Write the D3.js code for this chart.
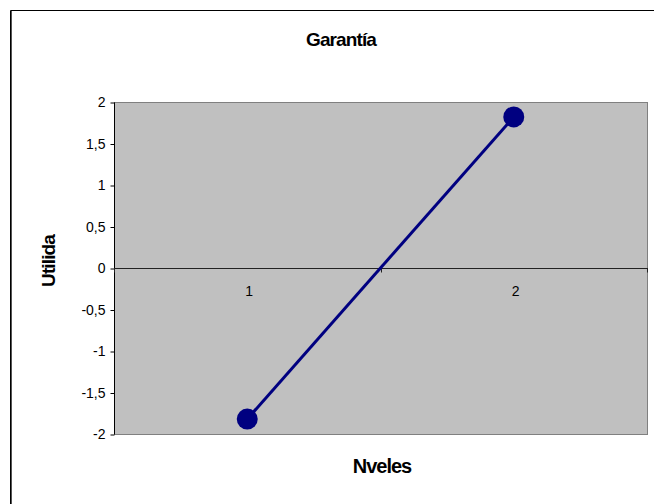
<!DOCTYPE html>
<html>
<head>
<meta charset="utf-8">
<script src="https://cdn.jsdelivr.net/npm/d3@7"></script>
<style>
  html, body { margin: 0; padding: 0; background: #fff; overflow: hidden; }
  svg { display: block; }
  text { font-family: Arial, "Liberation Sans", sans-serif; }
</style>
</head>
<body>
<svg id="chart" width="654" height="504"></svg>
<script>
// Part-worth utilities for the "Garantía" attribute
const categories = ["1", "2"];
const values = [-1.82, 1.82];
const yTicks = [-2, -1.5, -1, -0.5, 0, 0.5, 1, 1.5, 2];
const chartTitle = "Garantía";
const xTitle = "Nveles";
const yTitle = "Utilida";

const svg = d3.select("#chart");
const W = 654, H = 504;

// outer chart frame: only its top and left edges fall inside the canvas
svg.append("path")
  .attr("d", `M10.5,${H}V10.5H${W}`)
  .attr("fill", "none").attr("stroke", "#000").attr("stroke-width", 1);
svg.append("line")
  .attr("x1", 11.5).attr("x2", 11.5).attr("y1", 11).attr("y2", H)
  .attr("stroke", "#555").attr("stroke-width", 1);

const plot = { left: 114, top: 102, right: 647, bottom: 434 };

const x = d3.scaleBand()
  .domain(categories)
  .range([plot.left, plot.right])
  .paddingInner(0).paddingOuter(0);

const y = d3.scaleLinear()
  .domain([-2, 2])
  .range([plot.bottom, plot.top]);

// plot area
svg.append("rect")
  .attr("x", plot.left + 0.5).attr("y", plot.top + 0.5)
  .attr("width", plot.right - plot.left).attr("height", plot.bottom - plot.top)
  .attr("fill", "#c0c0c0").attr("stroke", "#808080").attr("stroke-width", 1);

// value axis
const yAxis = d3.axisLeft(y)
  .tickValues(yTicks)
  .tickSize(4)
  .tickPadding(5)
  .tickFormat(d => d3.format("")(d).replace(".", ",").replace("−", "-"));

const gy = svg.append("g")
  .attr("transform", `translate(${plot.left + 0.5},0.5)`)
  .call(yAxis);
gy.select(".domain").attr("stroke", "#000").attr("d", `M0,${plot.top}V${plot.bottom}`);
gy.selectAll(".tick line").attr("stroke", "#000");
gy.selectAll(".tick text")
  .attr("font-size", 14).attr("fill", "#000")
  .attr("font-family", "Arial, 'Liberation Sans', sans-serif");

// category axis crossing at zero
const y0 = Math.round(y(0));
const gx = svg.append("g").attr("transform", `translate(0,${y0 + 0.5})`);
gx.append("line")
  .attr("x1", plot.left).attr("x2", plot.right + 1)
  .attr("stroke", "#222").attr("stroke-width", 1);
const boundaries = [plot.left].concat(categories.map(c => x(c) + x.bandwidth()));
gx.selectAll("line.tk").data(boundaries).enter().append("line")
  .attr("class", "tk")
  .attr("x1", d => Math.round(d) + 0.5).attr("x2", d => Math.round(d) + 0.5)
  .attr("y1", 0).attr("y2", 4)
  .attr("stroke", "#222");
gx.selectAll("text").data(categories).enter().append("text")
  .attr("x", d => x(d) + x.bandwidth() / 2 + 2)
  .attr("y", 27)
  .attr("text-anchor", "middle")
  .attr("font-size", 14)
  .attr("fill", "#000")
  .text(d => d);

// series line and markers
const pts = categories.map((c, i) => [x(c) + x.bandwidth() / 2, y(values[i])]);
svg.append("path")
  .attr("d", d3.line()(pts))
  .attr("fill", "none").attr("stroke", "#000080").attr("stroke-width", 3);
svg.selectAll("circle.pt").data(pts).enter().append("circle")
  .attr("class", "pt")
  .attr("cx", d => d[0]).attr("cy", d => d[1])
  .attr("r", 10.5)
  .attr("fill", "#000080");

// titles
svg.append("text")
  .attr("x", 341).attr("y", 46)
  .attr("text-anchor", "middle")
  .attr("font-size", 19).attr("font-weight", "bold")
  .attr("letter-spacing", -0.9)
  .text(chartTitle);

svg.append("text")
  .attr("x", 382).attr("y", 473)
  .attr("text-anchor", "middle")
  .attr("font-size", 20).attr("font-weight", "bold")
  .attr("letter-spacing", -1)
  .text(xTitle);

svg.append("text")
  .attr("transform", "translate(55,261) rotate(-90)")
  .attr("text-anchor", "middle")
  .attr("font-size", 19).attr("font-weight", "bold")
  .attr("letter-spacing", -0.9)
  .text(yTitle);
</script>
</body>
</html>
